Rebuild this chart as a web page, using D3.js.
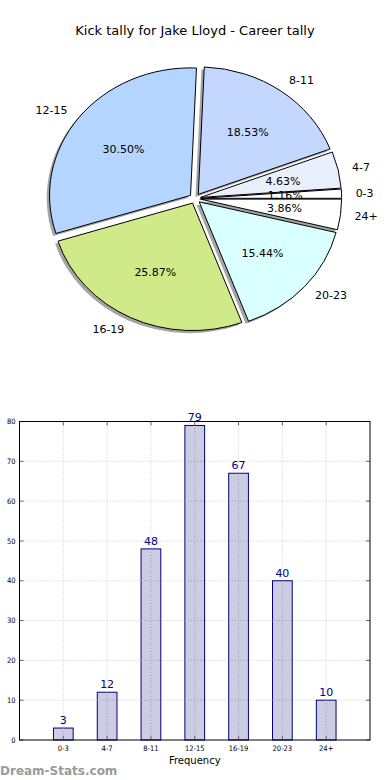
<!DOCTYPE html>
<html>
<head>
<meta charset="utf-8">
<script src="https://cdn.jsdelivr.net/npm/d3@7"></script>
<style>
  body { margin: 0; background: #fff; }
  svg { display: block; font-family: "DejaVu Sans", sans-serif; }
</style>
</head>
<body>
<div id="chart"></div>
<script>
var categories = ["0-3", "4-7", "8-11", "12-15", "16-19", "20-23", "24+"]
var kicks = [3, 12, 48, 79, 67, 40, 10]
var sliceColors = ["#ffffff", "#e8f0fe", "#c4d8ff", "#b3d5ff", "#d0ea8a", "#d9ffff", "#ffffff"]
var yTicks = [0, 10, 20, 30, 40, 50, 60, 70, 80]

var width = 390, height = 780
var svg = d3.select("#chart").append("svg")
  .attr("width", width)
  .attr("height", height)

svg.append("text")
  .attr("x", 195).attr("y", 35)
  .attr("text-anchor", "middle")
  .style("font-size", "13px")
  .text("Kick tally for Jake Lloyd - Career tally")

// ---- pie (elliptical, like matplotlib without equal aspect) ----
var cx = 195, cy = 198.5, rx = 141, ry = 127.5
var explode = 0.04
var total = d3.sum(kicks)

// matplotlib starts at 3 o'clock and goes counterclockwise
var pie = d3.pie().sort(null).startAngle(Math.PI / 2).endAngle(Math.PI / 2 - 2 * Math.PI)
var arcs = pie(kicks)
var arc = d3.arc().innerRadius(0).outerRadius(rx)

arcs.forEach(function(a, i){
  a.mid = (a.startAngle + a.endAngle) / 2
  a.dx = explode * rx * Math.sin(a.mid)
  a.dy = -explode * ry * Math.cos(a.mid)
  a.cat = categories[i]
  a.color = sliceColors[i]
})

var pieG = svg.append("g")

// shadows first, under every wedge
pieG.selectAll(".shadow").data(arcs).enter().append("path")
  .attr("class", "shadow")
  .attr("d", arc)
  .attr("transform", function(d){
    return "translate(" + (cx + d.dx - 0.02 * rx) + "," + (cy + d.dy + 0.02 * ry) + ") scale(1," + (ry / rx) + ")"
  })
  .attr("fill", "#4a4a4a")
  .attr("fill-opacity", 0.5)

pieG.selectAll(".wedge").data(arcs).enter().append("path")
  .attr("class", "wedge")
  .attr("d", arc)
  .attr("transform", function(d){
    return "translate(" + (cx + d.dx) + "," + (cy + d.dy) + ") scale(1," + (ry / rx) + ")"
  })
  .attr("fill", function(d){ return d.color })
  .attr("stroke", "#000")
  .attr("stroke-width", 1)
  .attr("vector-effect", "non-scaling-stroke")

pieG.selectAll(".cat").data(arcs).enter().append("text")
  .attr("class", "cat")
  .attr("x", function(d){ return cx + d.dx + 1.1 * rx * Math.sin(d.mid) })
  .attr("y", function(d){ return cy + d.dy - 1.1 * ry * Math.cos(d.mid) })
  .attr("text-anchor", function(d){ return Math.sin(d.mid) >= 0 ? "start" : "end" })
  .attr("dy", "0.35em")
  .style("font-size", "11px")
  .text(function(d){ return d.cat })

pieG.selectAll(".pct").data(arcs).enter().append("text")
  .attr("class", "pct")
  .attr("x", function(d){ return cx + d.dx + 0.6 * rx * Math.sin(d.mid) })
  .attr("y", function(d){ return cy + d.dy - 0.6 * ry * Math.cos(d.mid) })
  .attr("text-anchor", "middle")
  .attr("dy", "0.35em")
  .style("font-size", "11px")
  .text(function(d){ return (d.value / total * 100).toFixed(2) + "%" })

// ---- bar chart ----
var axLeft = 19.5, axRight = 370, axTop = 421.5, axBottom = 740
var x = d3.scaleLinear().domain([-1, categories.length]).range([axLeft, axRight])
var y = d3.scaleLinear().domain([0, 80]).range([axBottom, axTop])
var barW = 0.45

var barG = svg.append("g")

// grid
barG.selectAll(".vgrid").data(categories).enter().append("line")
  .attr("x1", function(d, i){ return x(i) }).attr("x2", function(d, i){ return x(i) })
  .attr("y1", axTop).attr("y2", axBottom)
  .attr("stroke", "#c8c8c8").attr("stroke-dasharray", "1,2")
barG.selectAll(".hgrid").data(yTicks.slice(1, -1)).enter().append("line")
  .attr("x1", axLeft).attr("x2", axRight)
  .attr("y1", function(d){ return y(d) }).attr("y2", function(d){ return y(d) })
  .attr("stroke", "#c8c8c8").attr("stroke-dasharray", "1,2")

barG.selectAll(".bar").data(kicks).enter().append("rect")
  .attr("x", function(d, i){ return x(i - barW / 2) })
  .attr("width", x(barW) - x(0))
  .attr("y", function(d){ return y(d) })
  .attr("height", function(d){ return axBottom - y(d) })
  .attr("fill", "#ccccE2")
  .attr("stroke", "#000080")
  .attr("stroke-width", 1)

// grid shows over bars as in matplotlib
barG.selectAll(".vgrid2").data(categories).enter().append("line")
  .attr("x1", function(d, i){ return x(i) }).attr("x2", function(d, i){ return x(i) })
  .attr("y1", function(d, i){ return y(kicks[i]) }).attr("y2", axBottom)
  .attr("stroke", "#9a9ab0").attr("stroke-dasharray", "1,2")
barG.selectAll(".hgrid2").data(yTicks.slice(1, -1)).enter().append("g")
  .each(function(t){
    var g = d3.select(this)
    kicks.forEach(function(v, i){
      if (v > t) {
        g.append("line")
          .attr("x1", x(i - barW / 2)).attr("x2", x(i + barW / 2))
          .attr("y1", y(t)).attr("y2", y(t))
          .attr("stroke", "#9a9ab0").attr("stroke-dasharray", "1,2")
      }
    })
  })

barG.selectAll(".val").data(kicks).enter().append("text")
  .attr("x", function(d, i){ return x(i) })
  .attr("y", function(d){ return y(d) - 4 })
  .attr("text-anchor", "middle")
  .attr("fill", "#000080")
  .style("font-size", "11px")
  .text(function(d){ return d })

// ticks (inward, all four sides)
var tickCol = "#666"
barG.selectAll(".tb").data(categories).enter().append("line")
  .attr("x1", function(d, i){ return x(i) }).attr("x2", function(d, i){ return x(i) })
  .attr("y1", axBottom).attr("y2", axBottom - 4).attr("stroke", tickCol)
barG.selectAll(".tt").data(categories).enter().append("line")
  .attr("x1", function(d, i){ return x(i) }).attr("x2", function(d, i){ return x(i) })
  .attr("y1", axTop).attr("y2", axTop + 4).attr("stroke", tickCol)
barG.selectAll(".tl").data(yTicks).enter().append("line")
  .attr("x1", axLeft).attr("x2", axLeft + 4)
  .attr("y1", function(d){ return y(d) }).attr("y2", function(d){ return y(d) }).attr("stroke", tickCol)
barG.selectAll(".tr").data(yTicks).enter().append("line")
  .attr("x1", axRight).attr("x2", axRight - 4)
  .attr("y1", function(d){ return y(d) }).attr("y2", function(d){ return y(d) }).attr("stroke", tickCol)

barG.append("rect")
  .attr("x", axLeft).attr("y", axTop)
  .attr("width", axRight - axLeft).attr("height", axBottom - axTop)
  .attr("fill", "none").attr("stroke", "#000").attr("stroke-width", 1)

barG.selectAll(".ylab").data(yTicks).enter().append("text")
  .attr("x", axLeft - 4)
  .attr("y", function(d){ return y(d) })
  .attr("dy", "0.35em")
  .attr("text-anchor", "end")
  .style("font-size", "7.5px")
  .style("font-family", "'DejaVu Sans Condensed', 'DejaVu Sans', sans-serif")
  .text(function(d){ return d })

barG.selectAll(".xlab").data(categories).enter().append("text")
  .attr("x", function(d, i){ return x(i) })
  .attr("y", axBottom + 11)
  .attr("text-anchor", "middle")
  .style("font-size", "7.5px")
  .style("font-family", "'DejaVu Sans Condensed', 'DejaVu Sans', sans-serif")
  .text(function(d){ return d })

svg.append("text")
  .attr("x", (axLeft + axRight) / 2).attr("y", 764)
  .attr("text-anchor", "middle")
  .style("font-size", "10px")
  .text("Frequency")

svg.append("text")
  .attr("x", 0).attr("y", 775)
  .attr("fill", "#9a9a9a")
  .style("font-size", "12px")
  .style("font-weight", "bold")
  .text("Dream-Stats.com")
</script>
</body>
</html>
